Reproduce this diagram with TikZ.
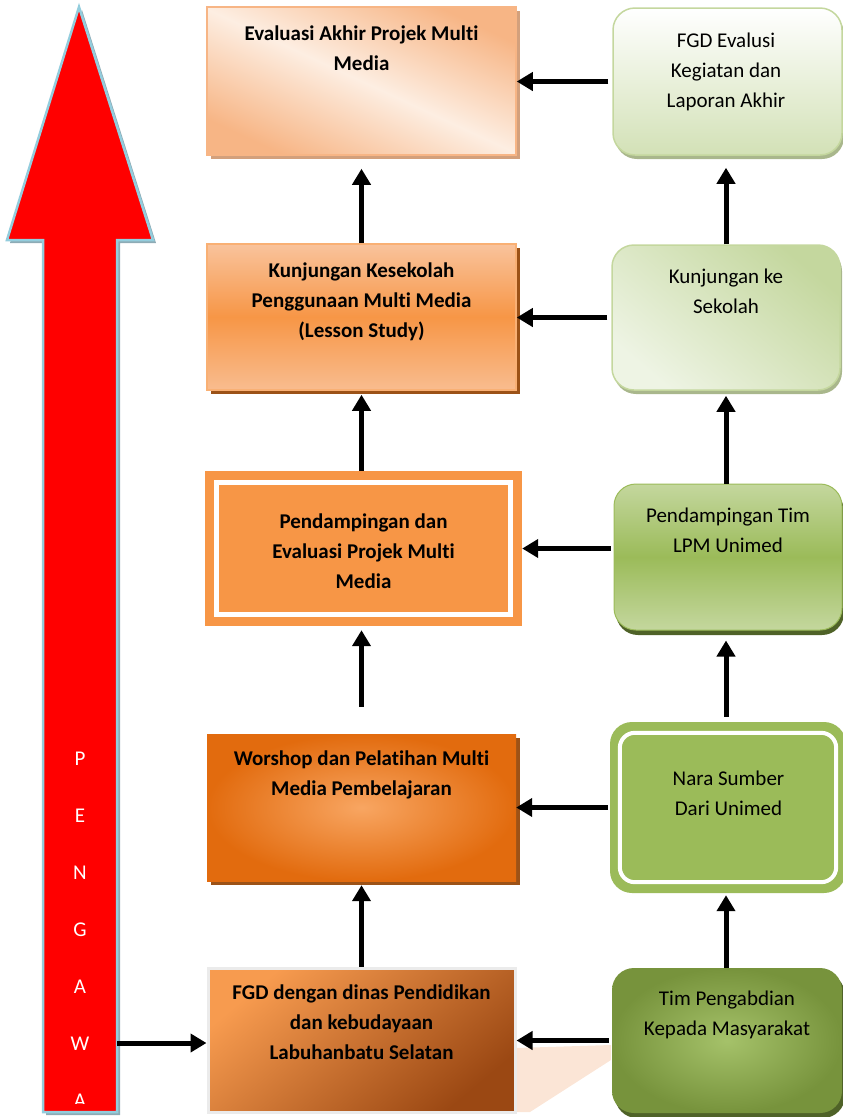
\documentclass[tikz,border=0pt]{standalone}
\usepackage{fontspec}
\setmainfont{Carlito}[Ligatures={NoCommon,NoContextual}]
\usetikzlibrary{arrows.meta,shadows}
\definecolor{or}{HTML}{F79646}
\definecolor{orlt}{HTML}{F9C39C}
\definecolor{ormid}{HTML}{F7B585}
\definecolor{orpale}{HTML}{FDEEE2}
\definecolor{ordk}{HTML}{E26B0E}
\definecolor{brown}{HTML}{9B4813}
\definecolor{shtan}{HTML}{D3A07C}
\definecolor{shbrown}{HTML}{9C5217}
\definecolor{gr}{HTML}{9BBB59}
\definecolor{grlt}{HTML}{C4D79E}
\definecolor{grpale}{HTML}{EEF4E4}
\definecolor{grdk}{HTML}{77933C}
\definecolor{shgreen}{HTML}{4F6228}
\definecolor{shgrey}{HTML}{A9B78C}
\definecolor{peach}{HTML}{FBE5D6}
\definecolor{arrblue}{HTML}{93CDDD}
\definecolor{arrshadow}{HTML}{8EABB5}
\begin{document}
\begin{tikzpicture}[x=1pt,y=-1pt,
  box/.style={rectangle, inner sep=0pt},
  rbox/.style={rectangle, rounded corners=22pt, inner sep=0pt},
  arr/.style={line width=5pt, -{Triangle[width=18pt,length=16pt]}},
  ltxt/.style={anchor=north, inner sep=0pt, align=center, font=\fontsize{21}{30}\selectfont\bfseries},
  rtxt/.style={anchor=north, inner sep=0pt, align=center, font=\fontsize{21}{30}\selectfont},
  lettr/.style={anchor=north, inner sep=0pt, align=center, text=white, font=\fontsize{21}{57.05}\selectfont},
  inner line/.style={white, line width=4.5pt}]
\useasboundingbox (0,0) rectangle (843,1117);

% peach patch behind lowest row
\fill[peach] (516,1048) -- (611,1045) -- (611,1060) -- (530,1112) -- (516,1112) -- cycle;

% big red arrow
\path[fill=red, draw=arrblue, line width=2.5pt,
  drop shadow={shadow xshift=3pt, shadow yshift=-3pt, fill=arrshadow, opacity=1}]
  (79,7) -- (153,240) -- (117,240) -- (117,1112) -- (43,1112) -- (43,240) -- (7,240) -- cycle;
\coordinate (pw) at (117,1043);
\begin{scope}
  \clip (43,700) rectangle (117,1103);
  \node[lettr] (pengawas) at (80,749) {\rule{0pt}{16pt}P\\E\\N\\G\\A\\W\\A};
\end{scope}

% left column
\node[box, minimum width=309pt, minimum height=148pt, draw=ormid, line width=1.5pt,
  top color=ormid, bottom color=ormid, middle color=orpale, shading angle=-25,
  drop shadow={shadow xshift=4pt, shadow yshift=-4pt, fill=shtan, opacity=1}]
  (b1) at (361.5,81) {};
\node[box, minimum width=309pt, minimum height=146pt, draw=or!75!white, line width=1.5pt,
  top color=orlt, bottom color=orlt!85!or, middle color=or,
  drop shadow={shadow xshift=4pt, shadow yshift=-4pt, fill=shbrown, opacity=1}]
  (b2) at (361.5,317) {};
\node[box, minimum width=317pt, minimum height=155pt, fill=or]
  (b3) at (363.5,548.5) {};
\draw[inner line] ([shift={(11.5,11.5)}]b3.north west) rectangle ([shift={(-11.5,-11.5)}]b3.south east);
\node[box, minimum width=309pt, minimum height=147pt,
  inner color=or!85!white, outer color=ordk,
  drop shadow={shadow xshift=4pt, shadow yshift=-4pt, fill=shbrown, opacity=1}]
  (b4) at (361.5,807.5) {};
\node[box, minimum width=307pt, minimum height=144pt, draw=black!8, line width=3pt,
  top color=or!95!white, bottom color=brown, shading angle=40]
  (b5) at (361.5,1040) {};

% right column
\node[rbox, minimum width=229pt, minimum height=147pt, draw=grlt, line width=1.5pt,
  top color=white, bottom color=grlt!75!white,
  drop shadow={shadow xshift=2pt, shadow yshift=-4pt, fill=shgrey, opacity=1}]
  (r1) at (727.5,81.5) {};
\node[rbox, minimum width=228pt, minimum height=145pt, draw=grlt, line width=1.5pt,
  top color=grlt, bottom color=grpale, shading angle=-40,
  drop shadow={shadow xshift=2pt, shadow yshift=-4pt, fill=shgrey, opacity=1}]
  (r2) at (726,317.5) {};
\node[rbox, minimum width=228pt, minimum height=146pt, draw=gr, line width=1pt,
  top color=grlt, bottom color=grlt, middle color=gr,
  drop shadow={shadow xshift=2pt, shadow yshift=-5pt, fill=shgreen, opacity=1}]
  (r3) at (728,557) {};
\node[rbox, minimum width=236pt, minimum height=171pt, fill=gr]
  (r4) at (728,807.5) {};
\draw[inner line, line width=4pt, rounded corners=15pt] ([shift={(10,11)}]r4.north west) rectangle ([shift={(-10,-11)}]r4.south east);
\node[rbox, minimum width=230pt, minimum height=145pt,
  inner color=gr!90!white, outer color=grdk,
  drop shadow={shadow xshift=3pt, shadow yshift=-5pt, fill=shgreen, opacity=1}]
  (r5) at (727,1040.5) {};

% texts
\node[ltxt] (b1t) at (361.5,19) {\strut Evaluasi Akhir Projek Multi\\Media};
\node[ltxt] (b2t) at (361.5,256) {\strut Kunjungan Kesekolah\\Penggunaan Multi Media\\(Lesson Study)};
\node[ltxt] (b3t) at (363.5,507) {\strut Pendampingan dan\\Evaluasi Projek Multi\\Media};
\node[ltxt] (b4t) at (361.5,744) {\strut Worshop dan Pelatihan Multi\\Media Pembelajaran};
\node[ltxt] (b5t) at (361.5,978) {\strut FGD dengan dinas Pendidikan\\dan kebudayaan\\Labuhanbatu Selatan};
\node[rtxt] (r1t) at (726,26) {\strut FGD Evalusi\\Kegiatan dan\\Laporan Akhir};
\node[rtxt] (r2t) at (726,262) {\strut Kunjungan ke\\Sekolah};
\node[rtxt] (r3t) at (728,501) {\strut Pendampingan Tim\\LPM Unimed};
\node[rtxt] (r4t) at (728.5,764) {\strut Nara Sumber\\Dari Unimed};
\node[rtxt] (r5t) at (727,984) {\strut Tim Pengabdian\\Kepada Masyarakat};

% vertical connectors, left
\draw[arr, shorten >=13pt] (b2.north) -- (b1.south);
\draw[arr, shorten >=4pt] (b3.north -| b2.north) -- (b2.south);
\draw[arr, shorten <=27pt, shorten >=4pt] (b4.north) -- (b3.south -| b4.north);
\draw[arr, shorten >=4pt] (b5.north) -- (b4.south);
% vertical connectors, right
\draw[arr, shorten >=12pt] (r2.north) -- (r2.north |- r1.south);
\draw[arr, shorten >=5pt] (r3.north -| r2.north) -- (r2.south);
\draw[arr, shorten <=5pt, shorten >=10pt] (r4.north -| r2.north) -- (r3.south -| r2.north);
\draw[arr, shorten >=2pt] (r5.north -| r2.north) -- (r4.south -| r2.north);
% horizontal connectors
\draw[arr, shorten <=4pt] (r1.west) -- (r1.west -| b1.east);
\draw[arr, shorten <=4pt] (r2.west) -- (r2.west -| b2.east);
\draw[arr, shorten <=3pt] (r3.west |- b3.east) -- (b3.east);
\draw[arr, shorten <=2pt] (r4.west) -- (r4.west -| b4.east);
\draw[arr, shorten <=3pt] (r5.west) -- (r5.west -| b5.east);
\draw[arr] (pw) -- (pw -| b5.west);
\end{tikzpicture}
\end{document}
